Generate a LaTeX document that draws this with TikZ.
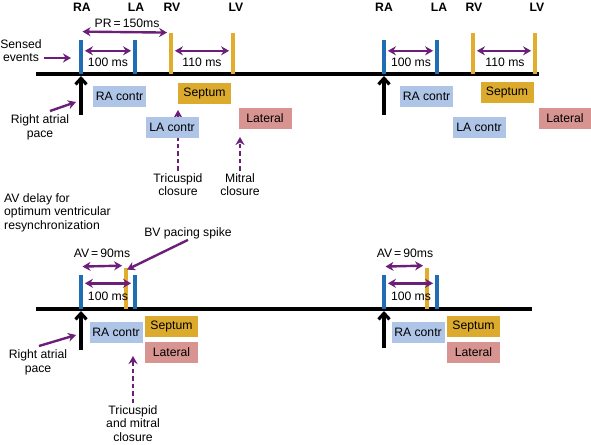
\documentclass[tikz,border=0pt]{standalone}
\usepackage{fontspec}
\setmainfont{Liberation Sans}
\usetikzlibrary{positioning,arrows.meta}
\definecolor{barblue}{HTML}{1F6EB4}
\definecolor{bargold}{HTML}{E2AD2C}
\definecolor{arrowpurple}{HTML}{6B1F78}
\definecolor{boxblue}{HTML}{AFC5E7}
\definecolor{boxgold}{HTML}{DCAA2D}
\definecolor{boxpink}{HTML}{D79491}
\tikzset{
  lbl/.style    = {align=center, inner sep=0pt, font=\fontsize{12.2}{13.7}\selectfont},
  evlbl/.style  = {lbl, font=\fontsize{12.2}{13.7}\selectfont\bfseries},
  tline/.style  = {line width=3.4pt},
  abar/.style   = {fill=barblue, inner sep=0pt, minimum width=4.4pt,
                   minimum height=34pt, anchor=south},
  vbar/.style   = {abar, fill=bargold, minimum height=41pt},
  contr/.style  = {inner sep=0pt, minimum width=53pt, minimum height=21pt,
                   font=\fontsize{12.2}{13.7}\selectfont},
  abox/.style   = {contr, fill=boxblue},
  sbox/.style   = {contr, fill=boxgold},
  lbox/.style   = {contr, fill=boxpink},
  dim/.style    = {{Stealth[length=8pt,width=9pt]}-{Stealth[length=8pt,width=9pt]},
                   line width=2.4pt, draw=arrowpurple, shorten <=1.5pt, shorten >=1.5pt},
  ptr/.style    = {-{Stealth[length=8pt,width=9pt]}, line width=2.4pt, draw=arrowpurple},
  dptr/.style   = {ptr, dash pattern=on 4.5pt off 3pt},
  pace/.style   = {-{Straight Barb[length=6pt,width=11pt]}, line width=3.2pt},
}
\begin{document}
\begin{tikzpicture}[x=1pt,y=-1pt]
  \useasboundingbox (0,0) rectangle (591,444);

  \coordinate (tlA0) at (36,74);  \coordinate (tlA1) at (539,74);
  \coordinate (tlB0) at (36,309); \coordinate (tlB1) at (532,309);
  \draw[tline] (tlA0) -- (tlA1);
  \draw[tline] (tlB0) -- (tlB1);

  % sensed events, left
  \node[abar] (ra1) at (81,74)  {};
  \node[abar] (la1) at (135,74) {};
  \node[vbar] (rv1) at (171,74) {};
  \node[vbar] (lv1) at (233,74) {};
  \node[evlbl] (nRA1) at (82,7)  {RA};
  \node[evlbl] (nLA1) at (136,7) {LA};
  \node[evlbl] (nRV1) at (172,7) {RV};
  \node[evlbl] (nLV1) at (236,7) {LV};
  \node[lbl] (pr1) at (127,23) {PR\,=\,150ms};
  \draw[dim] ([yshift=8pt]ra1.north) -- (rv1.north west);
  \draw[dim] ([yshift=6pt]ra1.east) -- ([yshift=6pt]la1.west);
  \draw[dim] ([yshift=2.5pt]rv1.east) -- ([yshift=2.5pt]lv1.west);
  \node[lbl] (ms1) at (108,62) {100 ms};
  \node[lbl] (ms2) at (202,62) {110 ms};

  \node[lbl] (sens) at (21,50.5) {Sensed\\events};
  \coordinate (sensA) at (44,58); \coordinate (sensB) at (71,58);
  \draw[ptr] (sensA) -- (sensB);

  \coordinate (pb1) at (81,115);
  \draw[pace] (pb1) -- ([yshift=-2pt]ra1.south);
  \node[lbl] (rap1) at (40,127) {Right atrial\\pace};
  \coordinate (rapA1) at (50,111); \coordinate (rapB1) at (76,102);
  \draw[ptr] (rapA1) -- (rapB1);

  \node[lbl] (tric) at (178,184.5) {Tricuspid\\closure};
  \node[lbl] (mitr) at (240,184.5) {Mitral\\closure};
  \draw[dptr, shorten >=6pt] ([yshift=2pt]tric.north) -- (tric.north |- 0,104);
  \draw[dptr, shorten >=8pt] ([yshift=2pt]mitr.north) -- (mitr.north |- 0,129);

  \node[abox] (rac1) at (119.5,96.5) {RA contr};
  \node[sbox] (sep1) at (204.5,93.5) {Septum};
  \node[abox] (lac1) at (172,127.5)  {LA contr};
  \node[lbox] (lat1) at (265,118.5)  {Lateral};

  % sensed events, right
  \node[abar] (ra2) at (384,74) {};
  \node[abar] (la2) at (437,74) {};
  \node[vbar] (rv2) at (473,74) {};
  \node[vbar] (lv2) at (535,74) {};
  \node[evlbl] (nRA2) at (384,7) {RA};
  \node[evlbl] (nLA2) at (439,7) {LA};
  \node[evlbl] (nRV2) at (474,7) {RV};
  \node[evlbl] (nLV2) at (537,7) {LV};
  \draw[dim] ([yshift=6pt]ra2.east) -- ([yshift=6pt]la2.west);
  \draw[dim] ([yshift=2.5pt]rv2.east) -- ([yshift=2.5pt]lv2.west);
  \node[lbl] (ms3) at (411,62) {100 ms};
  \node[lbl] (ms4) at (505,62) {110 ms};
  \coordinate (pb2) at (384,115);
  \draw[pace] (pb2) -- ([yshift=-2pt]ra2.south);

  \node[abox] (rac2) at (426.5,96) {RA contr};
  \node[sbox] (sep2) at (507,92.5) {Septum};
  \node[abox] (lac2) at (479,127.5) {LA contr};
  \node[lbox] (lat2) at (565,118)   {Lateral};

  % optimum AV delay
  \node[lbl, anchor=north west, align=left] (avd) at (4,193)
    {AV delay for\\optimum ventricular\\resynchronization};

  \node[abar] (ra3) at (81,309)  {};
  \node[vbar] (bv3) at (126,309) {};
  \node[abar] (la3) at (135,309) {};
  \draw[dim] ([yshift=8pt]ra3.north) -- ([yshift=2pt]bv3.north west);
  \draw[dim] ([yshift=8.5pt]ra3.east) -- ([yshift=8.5pt]la3.west);
  \node[lbl] (av1) at (102,253) {AV\,=\,90ms};
  \node[lbl] (ms5) at (108,296) {100 ms};
  \node[lbl] (bvs) at (188,233) {BV pacing spike};
  \draw[ptr] ([yshift=-1pt]bvs.south) -- ([xshift=1pt,yshift=-2pt]bv3.north);

  \coordinate (pb3) at (81,350);
  \draw[pace] (pb3) -- ([yshift=-2pt]ra3.south);
  \node[lbl] (rap3) at (38,362) {Right atrial\\pace};
  \coordinate (rapA3) at (39,346); \coordinate (rapB3) at (76,335);
  \draw[ptr] (rapA3) -- (rapB3);

  \node[lbl] (tmc) at (133,423.5) {Tricuspid\\and mitral\\closure};
  \draw[dptr, shorten >=13pt] ([yshift=2pt]tmc.north) -- (tmc.north |- 0,343);

  \node[abox] (rac3) at (116,332)   {RA contr};
  \node[sbox] (sep3) at (171.5,326.5) {Septum};
  \node[lbox] (lat3) at (171.5,352.5) {Lateral};

  \node[abar] (ra4) at (384,309) {};
  \node[vbar] (bv4) at (427,309) {};
  \node[abar] (la4) at (437,309) {};
  \draw[dim] ([yshift=8pt]ra4.north) -- ([yshift=2pt]bv4.north west);
  \draw[dim] ([yshift=8.5pt]ra4.east) -- ([yshift=8.5pt]la4.west);
  \node[lbl] (av2) at (405,253) {AV\,=\,90ms};
  \node[lbl] (ms6) at (411,296) {100 ms};
  \coordinate (pb4) at (384,348);
  \draw[pace] (pb4) -- ([yshift=-2pt]ra4.south);

  \node[abox] (rac4) at (418,332)   {RA contr};
  \node[sbox] (sep4) at (473.5,326.5) {Septum};
  \node[lbox] (lat4) at (473.5,352) {Lateral};
\end{tikzpicture}
\end{document}
